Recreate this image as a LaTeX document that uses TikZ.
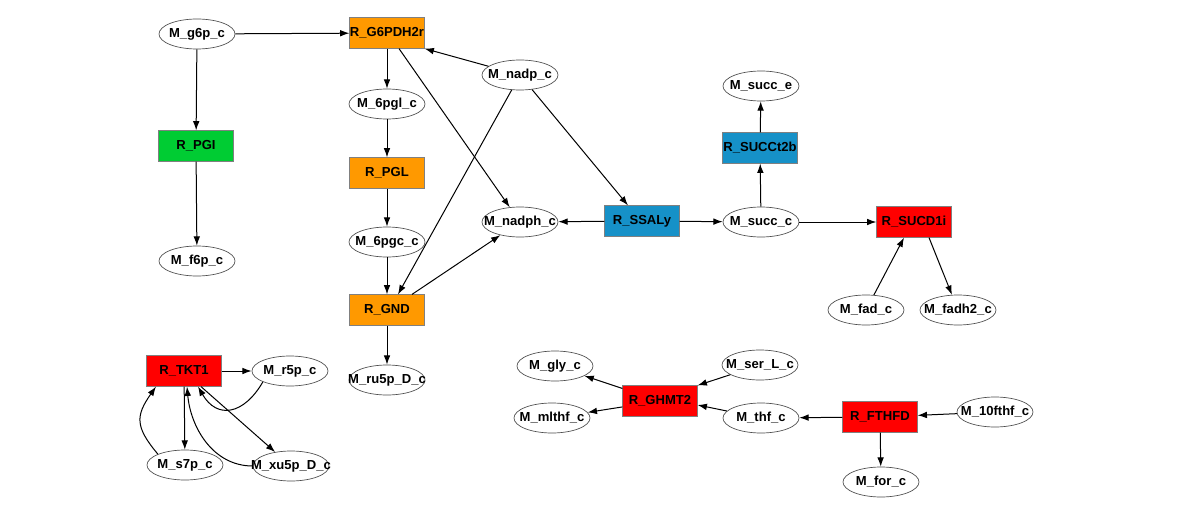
\documentclass[tikz,border=0pt]{standalone}
\usepackage{fontspec}
\setmainfont{Liberation Sans}
\usetikzlibrary{shapes.geometric,arrows.meta,calc}
\definecolor{rorange}{RGB}{255,153,0}
\definecolor{rgreen}{RGB}{0,204,51}
\definecolor{rblue}{RGB}{22,145,200}
\definecolor{rred}{RGB}{255,0,0}
\newcommand{\zb}[1]{\makebox[0pt]{#1}}
\tikzset{
  met/.style={ellipse, draw=black!70, line width=0.5pt, fill=white, minimum width=57pt, minimum height=22.5pt, inner sep=0pt, font=\bfseries\fontsize{9.8}{11}\selectfont},
  rxn/.style={rectangle, draw=black!50, line width=0.4pt, minimum width=56pt, minimum height=23pt, inner sep=0pt, font=\bfseries\fontsize{9.8}{11}\selectfont},
  orng/.style={rxn, fill=rorange},
  grn/.style={rxn, fill=rgreen},
  blu/.style={rxn, fill=rblue},
  rd/.style={rxn, fill=rred},
  arr/.style={-{Latex[length=7pt,width=5pt]}, line width=0.75pt, black}
}
\begin{document}
\begin{tikzpicture}[x=0.75pt,y=-0.75pt]
\useasboundingbox (0,0) rectangle (1200,510);
% metabolites
\node[met] (g6p) at (197,34) {\zb{M\_g6p\_c}};
\node[met] (f6p) at (197,261) {\zb{M\_f6p\_c}};
\node[met] (nadp) at (520,75) {\zb{M\_nadp\_c}};
\node[met] (pgl6) at (387,104) {\zb{M\_6pgl\_c}};
\node[met] (pgc6) at (387,242) {\zb{M\_6pgc\_c}};
\node[met] (ru5p) at (387,380) {\zb{M\_ru5p\_D\_c}};
\node[met] (nadph) at (520,222) {\zb{M\_nadph\_c}};
\node[met] (succc) at (761,222) {\zb{M\_succ\_c}};
\node[met] (succe) at (761,86) {\zb{M\_succ\_e}};
\node[met] (fad) at (866,310) {\zb{M\_fad\_c}};
\node[met] (fadh) at (958,310) {\zb{M\_fadh2\_c}};
\node[met] (r5p) at (290,371) {\zb{M\_r5p\_c}};
\node[met] (s7p) at (185,465) {\zb{M\_s7p\_c}};
\node[met] (xu5p) at (291,466) {\zb{M\_xu5p\_D\_c}};
\node[met] (gly) at (555,366) {\zb{M\_gly\_c}};
\node[met] (mlthf) at (552,418) {\zb{M\_mlthf\_c}};
\node[met] (ser) at (760,365) {\zb{M\_ser\_L\_c}};
\node[met] (thf) at (761,418) {\zb{M\_thf\_c}};
\node[met] (fthf) at (995,412) {\zb{M\_10fthf\_c}};
\node[met] (for) at (881,482) {\zb{M\_for\_c}};
% reactions
\node[orng] (G6PDH) at (387,33) {\zb{R\_G6PDH2r}};
\node[grn] (PGI) at (196,146) {\zb{R\_PGI}};
\node[orng] (PGL) at (387,173) {\zb{R\_PGL}};
\node[orng] (GND) at (387,310) {\zb{R\_GND}};
\node[blu] (SSALy) at (642,221) {\zb{R\_SSALy}};
\node[blu] (SUCCt) at (760,148) {\zb{R\_SUCCt2b}};
\node[rd] (SUCD) at (914,222) {\zb{R\_SUCD1i}};
\node[rd] (TKT) at (184,371) {\zb{R\_TKT1}};
\node[rd] (GHMT) at (660,401) {\zb{R\_GHMT2}};
\node[rd] (FTHFD) at (880,417) {\zb{R\_FTHFD}};
% edges
\draw[arr] (g6p) -- (G6PDH);
\draw[arr] (g6p) -- (PGI);
\draw[arr] (PGI) -- (f6p);
\draw[arr] (nadp) -- (G6PDH.south east);
\draw[arr] (G6PDH) -- (pgl6);
\draw[arr] (pgl6) -- (PGL);
\draw[arr] (PGL) -- (pgc6);
\draw[arr] (pgc6) -- (GND);
\draw[arr] (GND) -- (ru5p);
\draw[arr] ($(G6PDH.south)+(12,0)$) -- (nadph);
\draw[arr] (nadp) -- ($(GND.north)+(11,0)$);
\draw[arr] ($(GND.north)+(25,0)$) -- (nadph);
\draw[arr] (nadp) -- ($(SSALy.north)+(-14,0)$);
\draw[arr] (SSALy) -- (nadph);
\draw[arr] (SSALy) -- (succc);
\draw[arr] (succc) -- (SUCCt);
\draw[arr] (SUCCt) -- (succe);
\draw[arr] (succc) -- (SUCD);
\draw[arr] (fad) -- ($(SUCD.south)+(-10,0)$);
\draw[arr] ($(SUCD.south)+(15,0)$) -- (fadh);
\draw[arr] (TKT) -- (r5p);
\draw[arr] (TKT) -- (s7p);
\draw[arr] ($(TKT.south)+(17,0)$) -- (xu5p);
\draw[arr] (r5p.south west) to[out=-120, in=-60, looseness=1.5] ($(TKT.south)+(14,0)$);
\draw[arr] (s7p.north west) to[out=130, in=-125, looseness=1.35] ($(TKT.south)+(-28,0)$);
\draw[arr] (xu5p.west) to[out=180, in=-85, looseness=1.0] ($(TKT.south)+(3,0)$);
\draw[arr] (ser) -- (GHMT.north east);
\draw[arr] (thf) -- ($(GHMT.east)+(0,4)$);
\draw[arr] (GHMT) -- (gly);
\draw[arr] (GHMT) -- (mlthf);
\draw[arr] (FTHFD) -- (thf);
\draw[arr] (fthf) -- (FTHFD);
\draw[arr] (FTHFD) -- (for);
\end{tikzpicture}
\end{document}
